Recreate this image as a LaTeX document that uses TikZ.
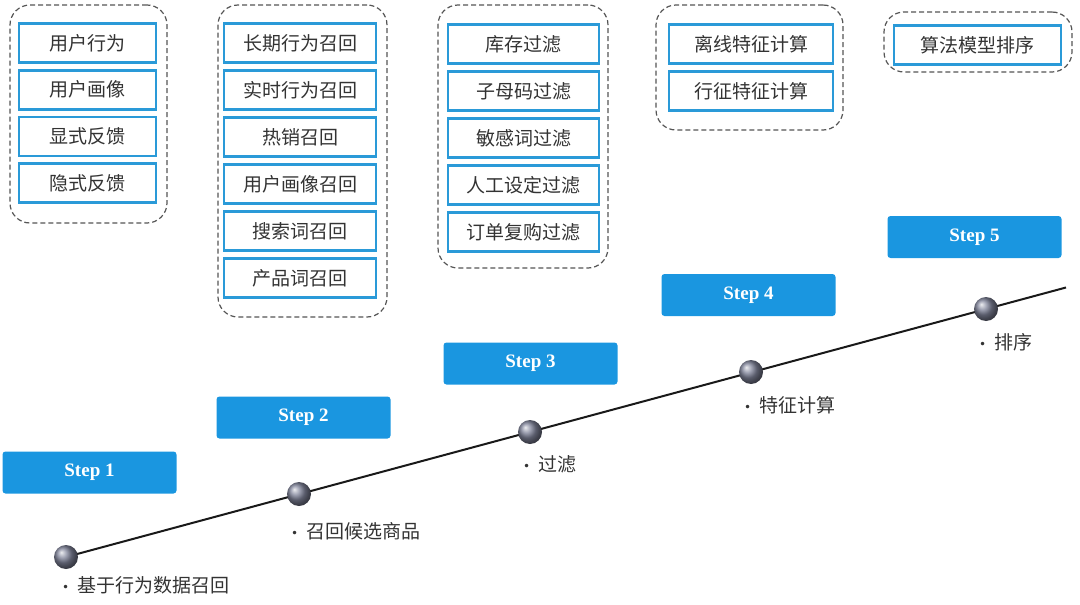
\documentclass[tikz,border=0pt]{standalone}
\usepackage{fontspec}
\newfontfamily\cjk{Noto Sans CJK SC}
\newfontfamily\stepfont{Liberation Serif}
\newfontfamily\dejavu{DejaVu Sans}
\definecolor{boxblue}{HTML}{2A9AD8}
\definecolor{stepblue}{HTML}{1A96E0}
\definecolor{txt}{HTML}{333333}
\definecolor{dashgray}{HTML}{555555}
\definecolor{ballc}{HTML}{80849A}
\tikzset{
  item/.style={draw=boxblue, line width=2.6pt, fill=white, minimum height=39pt, inner sep=0pt,
    font=\cjk\fontsize{19}{19}\selectfont, text=txt},
  grp/.style={draw=dashgray, dashed, line width=1.2pt, rounded corners=20pt, inner sep=0pt, dash pattern=on 5pt off 3pt},
  stepbox/.style={fill=stepblue, rounded corners=3pt, minimum width=174pt, minimum height=42pt, inner sep=0pt,
    text=white, font=\stepfont\bfseries\fontsize{19}{19}\selectfont},
  sball/.style={circle, shading=ball, ball color=ballc, minimum size=24pt, inner sep=0pt},
  lbl/.style={anchor=west, inner sep=0pt, text=txt, font=\cjk\fontsize{19}{19}\selectfont}
}
\newcommand{\bul}{{\dejavu\fontsize{12}{12}\selectfont\raisebox{1pt}{•}}\hspace{8pt}}
\begin{document}
\begin{tikzpicture}[x=1pt,y=-1pt]
\useasboundingbox (0,0) rectangle (1080,605);
% dashed groups
\node[grp, minimum width=157pt, minimum height=218pt] (g1) at (88.5,114) {};
\node[grp, minimum width=169pt, minimum height=312pt] (g2) at (302.5,161) {};
\node[grp, minimum width=170pt, minimum height=263pt] (g3) at (523,136.5) {};
\node[grp, minimum width=187pt, minimum height=125pt] (g4) at (749.5,67.5) {};
\node[grp, minimum width=188pt, minimum height=60pt] (g5) at (978,42) {};
% group 1
\foreach \t [count=\i] in {用户行为,用户画像,显式反馈,隐式反馈}{
  \node[item, minimum width=137pt] (a\i) at (87.5,{43+(\i-1)*46.7}) {\t};
}
% group 2
\foreach \t [count=\i] in {长期行为召回,实时行为召回,热销召回,用户画像召回,搜索词召回,产品词召回}{
  \node[item, minimum width=152pt] (b\i) at (300,{43+(\i-1)*47}) {\t};
}
% group 3
\foreach \t [count=\i] in {库存过滤,子母码过滤,敏感词过滤,人工设定过滤,订单复购过滤}{
  \node[item, minimum width=151pt] (c\i) at (523.5,{44+(\i-1)*47}) {\t};
}
% group 4
\foreach \t [count=\i] in {离线特征计算,行征特征计算}{
  \node[item, minimum width=164pt] (d\i) at (751,{44+(\i-1)*47}) {\t};
}
% group 5
\node[item, minimum width=167pt] (e1) at (977.5,45) {算法模型排序};
% steps
\node[stepbox] (s1) at (89.5,472.5) {Step 1};
\node[stepbox] (s2) at (303.5,417.5) {Step 2};
\node[stepbox] (s3) at (530.5,363.5) {Step 3};
\node[stepbox] (s4) at (748.5,295) {Step 4};
\node[stepbox] (s5) at (974.5,237) {Step 5};
% timeline
\coordinate (p1) at (66,557);
\coordinate (p2) at (299,494);
\coordinate (p3) at (530,432);
\coordinate (p4) at (751,372);
\coordinate (p5) at (986,309);
\coordinate (pend) at (1066,287.5);
\draw[line width=2pt, black!90] (p1) -- (pend);
\foreach \i in {1,...,5}{ \node[sball] (ball\i) at (p\i) {}; }
% labels
\node[lbl] (l1) at (62,585) {\bul 基于行为数据召回};
\node[lbl] (l2) at (291,531) {\bul 召回候选商品};
\node[lbl] (l3) at (523,464) {\bul 过滤};
\node[lbl] (l4) at (744,405) {\bul 特征计算};
\node[lbl] (l5) at (979,342) {\bul 排序};
\end{tikzpicture}
\end{document}
